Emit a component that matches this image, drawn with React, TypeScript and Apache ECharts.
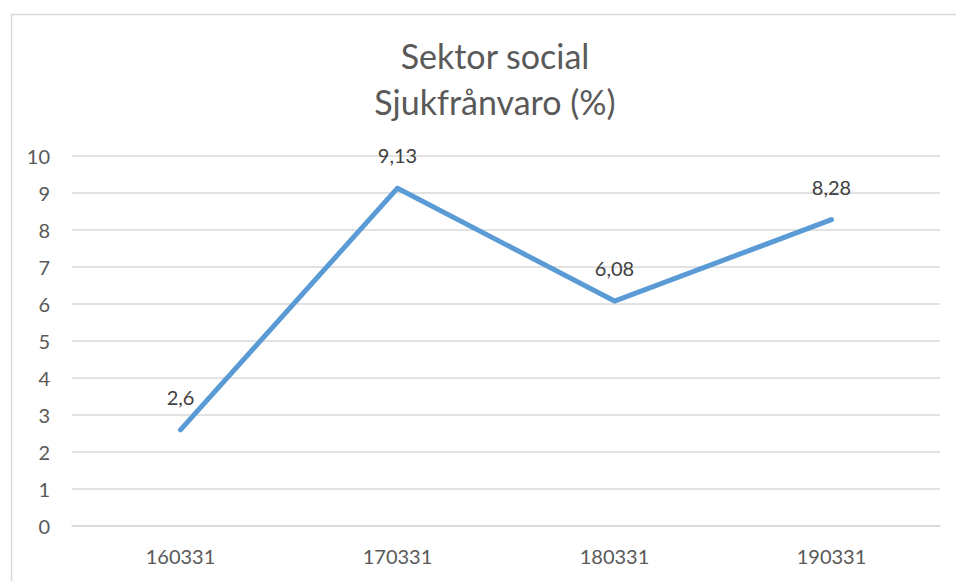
import React, { useEffect, useRef } from "react";
import * as echarts from "echarts";

const titleLines = ["Sektor social", "Sjukfrånvaro (%)"];
const categories = ["160331", "170331", "180331", "190331"];
const values = [2.6, 9.13, 6.08, 8.28];
const yMin = 0;
const yMax = 10;
const yInterval = 1;

const FONT = "Lato, 'Open Sans', sans-serif";

export default function App() {
  const ref = useRef<HTMLDivElement>(null);
  useEffect(() => {
    document.body.style.margin = "0";
    const chart = echarts.init(ref.current!, null, { renderer: "svg" });
    chart.setOption({
      animation: false,
      backgroundColor: "#ffffff",
      graphic: [
        {
          type: "rect",
          left: 9,
          top: 12,
          shape: { width: 1000, height: 700 },
          style: { fill: "none", stroke: "#d9d9d9", lineWidth: 1.5 },
          silent: true,
          z: -1,
        },
      ],
      title: {
        text: titleLines.join("\n"),
        left: 490,
        top: 27,
        textAlign: "center",
        textStyle: {
          fontFamily: FONT,
          fontSize: 34,
          fontWeight: "normal",
          color: "#595959",
          lineHeight: 46,
        },
      },
      grid: { left: 72, right: 16, top: 156, bottom: 55, containLabel: false },
      xAxis: {
        type: "category",
        data: categories,
        boundaryGap: true,
        axisLine: { show: true, lineStyle: { color: "#d9d9d9", width: 1.5 } },
        axisTick: { show: false },
        axisLabel: { fontFamily: FONT, fontSize: 20, color: "#595959", margin: 20 },
      },
      yAxis: {
        type: "value",
        min: yMin,
        max: yMax,
        interval: yInterval,
        axisLine: { show: false },
        axisTick: { show: false },
        splitLine: { lineStyle: { color: "#d9d9d9", width: 1.5 } },
        axisLabel: { fontFamily: FONT, fontSize: 20, color: "#595959", margin: 22 },
      },
      series: [
        {
          type: "line",
          data: values,
          showSymbol: true,
          symbol: "circle",
          symbolSize: 0.1,
          lineStyle: { color: "#5B9BD5", width: 5, cap: "round", join: "round" },
          itemStyle: { color: "#5B9BD5" },
          label: {
            show: true,
            position: "top",
            distance: 23,
            fontFamily: FONT,
            fontSize: 20,
            color: "#404040",
            formatter: (p: any) => String(p.value).replace(".", ","),
          },
        },
      ],
    });
    return () => chart.dispose();
  }, []);
  return <div ref={ref} style={{ position: "absolute", left: 0, top: 0, width: 956, height: 581 }} />;
}
